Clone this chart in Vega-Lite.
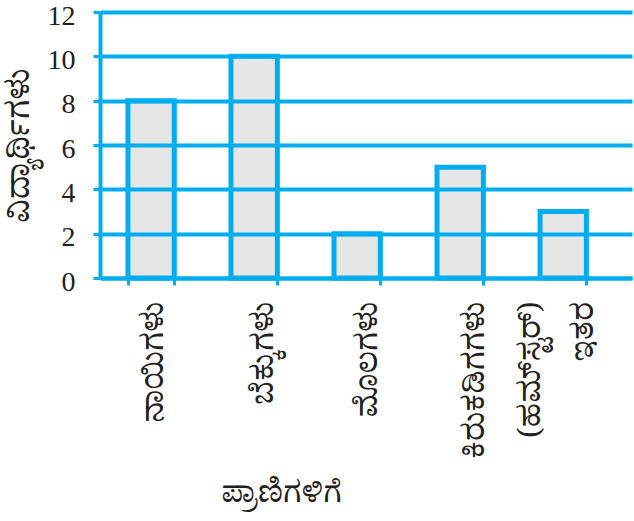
{
  "$schema": "https://vega.github.io/schema/vega-lite/v6.json",
  "width": 532,
  "height": 266,
  "autosize": "none",
  "padding": {"left": 100, "top": 12, "right": 2, "bottom": 243},
  "background": "white",
  "data": {"values": [
    {"animal": "ನಾಯಿಗಳು", "students": 8},
    {"animal": "ಬೆಕ್ಕುಗಳು", "students": 10},
    {"animal": "ಮೊಲಗಳು", "students": 2},
    {"animal": "ಕಿರುಕಡಿಗಗಳು (ಹಮ್‌ಸ್ಟರ್)", "students": 5},
    {"animal": "ಇತರ", "students": 3}
  ]},
  "mark": {"type": "bar", "fill": "#E6E6E6", "stroke": "#00AEEF", "strokeWidth": 5},
  "encoding": {
    "x": {
      "field": "animal", "type": "nominal", "sort": null,
      "scale": {"paddingInner": 0.55, "paddingOuter": 0.357, "align": 0.38},
      "axis": {
        "title": "ಪ್ರಾಣಿಗಳಿಗೆ",
        "titleFont": "Noto Serif Kannada, Noto Sans Kannada",
        "titleFontSize": 30,
        "titleFontWeight": "normal",
        "titleColor": "#231F20",
        "titleX": 181,
        "titleY": 214,
        "titleBaseline": "middle",
        "titleAnchor": "middle",
        "labelAngle": -90,
        "labelAlign": "right",
        "labelBaseline": "middle",
        "labelFont": "Noto Serif Kannada, Noto Sans Kannada",
        "labelFontSize": 31,
        "labelColor": "#231F20",
        "labelPadding": 16,
        "labelLineHeight": 56,
        "labelExpr": "split(datum.label, ' ')",
        "labelOffset": {"condition": [
          {"test": "datum.value == 'ಬೆಕ್ಕುಗಳು'", "value": 9},
          {"test": "datum.value == 'ಮೊಲಗಳು'", "value": 10},
          {"test": "datum.value == 'ಇತರ'", "value": 20},
          {"test": "datum.value == 'ಕಿರುಕಡಿಗಗಳು (ಹಮ್‌ಸ್ಟರ್)'", "value": 14}
        ], "value": 2},
        "labelOverlap": false,
        "labelLimit": 300,
        "tickBand": "extent",
        "tickSize": 7,
        "tickWidth": 3,
        "tickColor": "#00AEEF",
        "domainColor": "#00AEEF",
        "domainWidth": 4,
        "zindex": 1
      }
    },
    "y": {
      "field": "students", "type": "quantitative",
      "scale": {"domain": [0, 12], "nice": false},
      "axis": {
        "title": "ವಿದ್ಯಾರ್ಥಿಗಳು",
        "titleFont": "Noto Serif Kannada, Noto Sans Kannada",
        "titleFontSize": 32,
        "titleFontWeight": "normal",
        "titleColor": "#231F20",
        "titlePadding": 12,
        "values": [0, 2, 4, 6, 8, 10, 12],
        "labelFont": "Liberation Serif",
        "labelFontSize": 28,
        "labelColor": "#231F20",
        "labelPadding": 18,
        "labelOffset": 4,
        "tickSize": 7,
        "tickWidth": 3,
        "tickColor": "#00AEEF",
        "domainColor": "#00AEEF",
        "domainWidth": 4,
        "grid": true,
        "gridColor": "#00AEEF",
        "gridWidth": 4,
        "gridOpacity": 1,
        "zindex": 1
      }
    }
  },
  "config": {"view": {"stroke": null}}
}
